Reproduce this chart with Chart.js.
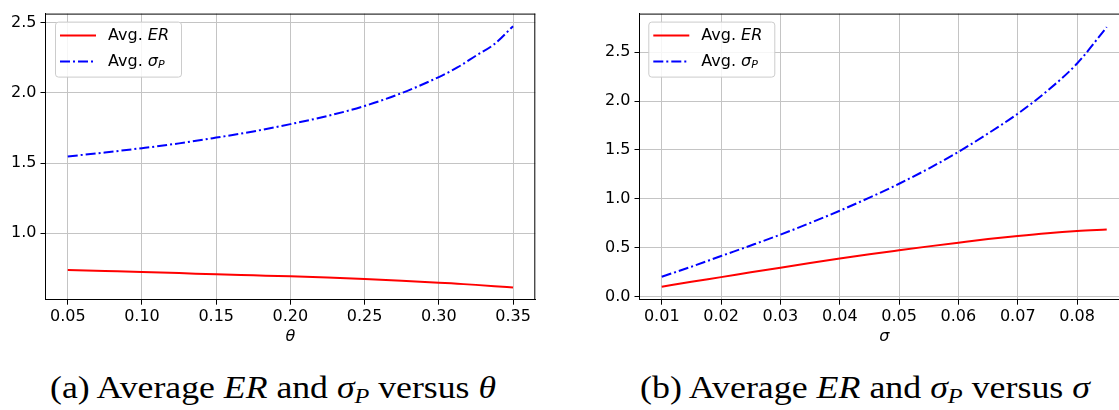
<!DOCTYPE html>
<html>
<head>
<meta charset="utf-8">
<script src="https://cdn.jsdelivr.net/npm/chart.js@4.4.0/dist/chart.umd.min.js"></script>
<style>
  html, body { margin: 0; padding: 0; background: #ffffff; overflow: hidden; width: 1119px; height: 410px; }
  #wrapL { position: absolute; left: 0; top: 0; width: 560px; height: 350px; }
  #wrapR { position: absolute; left: 560px; top: 0; width: 580px; height: 350px; }
  .cap { position: absolute; top: 371px; font-family: "Liberation Serif", "DejaVu Serif", serif; font-size: 31px; line-height: 34px; color: #000; white-space: nowrap; transform-origin: 0 50%; }
  .cap i { font-style: italic; }
  .cap sub { font-size: 21px; vertical-align: -5px; line-height: 0; }
</style>
</head>
<body>
<div id="wrapL"><canvas id="cL" width="560" height="350"></canvas></div>
<div id="wrapR"><canvas id="cR" width="580" height="350"></canvas></div>
<div class="cap" id="capA" style="left:50px">(a) Average <i>ER</i> and <i>σ<sub>P</sub></i> versus <i>θ</i></div>
<div class="cap" id="capB" style="left:640px">(b) Average <i>ER</i> and <i>σ<sub>P</sub></i> versus <i>σ</i></div>
<script>
// ---- Data ----
const thetaValues    = [0.05, 0.075, 0.10, 0.125, 0.15, 0.175, 0.20, 0.225, 0.25, 0.275, 0.30, 0.3125, 0.325, 0.3375, 0.35];
const thetaAvgER     = [0.739, 0.732, 0.725, 0.717, 0.708, 0.701, 0.694, 0.685, 0.675, 0.663, 0.649, 0.641, 0.633, 0.624, 0.614];
const thetaAvgSigmaP = [1.547, 1.575, 1.606, 1.640, 1.681, 1.725, 1.777, 1.835, 1.906, 1.998, 2.112, 2.180, 2.264, 2.347, 2.474];

const sigmaValues    = [0.010, 0.015, 0.020, 0.025, 0.030, 0.035, 0.040, 0.045, 0.050, 0.055, 0.060, 0.065, 0.070, 0.075, 0.080, 0.085];
const sigmaAvgER     = [0.100, 0.150, 0.198, 0.247, 0.295, 0.342, 0.388, 0.432, 0.473, 0.513, 0.551, 0.588, 0.620, 0.648, 0.670, 0.686];
const sigmaAvgSigmaP = [0.202, 0.305, 0.414, 0.522, 0.633, 0.752, 0.878, 1.012, 1.154, 1.310, 1.480, 1.669, 1.871, 2.106, 2.385, 2.758];

const thetaTicks  = [0.05, 0.10, 0.15, 0.20, 0.25, 0.30, 0.35];
const leftYTicks  = [1.0, 1.5, 2.0, 2.5];
const sigmaTicks  = [0.01, 0.02, 0.03, 0.04, 0.05, 0.06, 0.07, 0.08];
const rightYTicks = [0.0, 0.5, 1.0, 1.5, 2.0, 2.5];

const seriesNames = ['Avg. ER', 'Avg. σP'];

// ---- Plugins ----
const framePlugin = {
  id: 'frame',
  afterDatasetsDraw(chart) {
    const {ctx, chartArea: a} = chart;
    ctx.save();
    ctx.strokeStyle = '#000';
    ctx.lineWidth = 1;
    ctx.beginPath();
    ctx.moveTo(a.left, a.top + 0.5);
    ctx.lineTo(a.right, a.top + 0.5);
    ctx.moveTo(a.right - 0.5, a.top);
    ctx.lineTo(a.right - 0.5, a.bottom);
    ctx.stroke();
    ctx.restore();
  }
};

const mplLegend = {
  id: 'mplLegend',
  afterDraw(chart, args, opts) {
    const {ctx, chartArea: a} = chart;
    const x = a.left + opts.dx, y = a.top + 8, w = 126, h = 55;
    ctx.save();
    ctx.fillStyle = 'rgba(255,255,255,0.85)';
    ctx.strokeStyle = '#cccccc';
    ctx.lineWidth = 1;
    ctx.beginPath();
    ctx.roundRect(x + 0.5, y + 0.5, w, h, 3);
    ctx.fill();
    ctx.stroke();
    const rows = [y + 14, y + 40];
    chart.data.datasets.forEach((ds, i) => {
      const ry = rows[i];
      ctx.strokeStyle = ds.borderColor;
      ctx.lineWidth = 2;
      ctx.setLineDash(ds.borderDash || []);
      ctx.beginPath();
      ctx.moveTo(x + 5, ry);
      ctx.lineTo(x + 41, ry);
      ctx.stroke();
      ctx.setLineDash([]);
      ctx.fillStyle = '#000';
      ctx.textBaseline = 'middle';
      ctx.font = '16px "DejaVu Sans"';
      let tx = x + 53;
      ctx.fillText('Avg. ', tx, ry);
      tx += ctx.measureText('Avg. ').width;
      if (i === 0) {
        ctx.font = 'italic 16px "DejaVu Sans"';
        ctx.fillText('ER', tx, ry);
      } else {
        ctx.font = 'italic 16px "DejaVu Sans"';
        ctx.fillText('σ', tx, ry);
        tx += ctx.measureText('σ').width;
        ctx.font = 'italic 11px "DejaVu Sans"';
        ctx.fillText('P', tx, ry + 4);
      }
    });
    ctx.restore();
  }
};

function makeChart(id, xs, er, sp, xTicks, yTicks, xMin, xMax, yMin, yMax, yAxisWidth, padRight, xTitle, legendDx) {
  return new Chart(document.getElementById(id), {
    type: 'line',
    data: {
      datasets: [
        { label: seriesNames[0], data: xs.map((x, i) => ({x, y: er[i]})), borderColor: '#ff0000', borderWidth: 2, pointRadius: 0, cubicInterpolationMode: 'monotone', fill: false },
        { label: seriesNames[1], data: xs.map((x, i) => ({x, y: sp[i]})), borderColor: '#0000ff', borderWidth: 2, borderDash: [10, 3, 2, 3], pointRadius: 0, cubicInterpolationMode: 'monotone', fill: false }
      ]
    },
    options: {
      responsive: false,
      animation: false,
      events: [],
      layout: { padding: { top: 11, right: padRight, left: 0, bottom: 0 } },
      plugins: { legend: { display: false }, tooltip: { enabled: false }, mplLegend: { dx: legendDx } },
      scales: {
        x: {
          type: 'linear', min: xMin, max: xMax,
          afterBuildTicks: s => { s.ticks = xTicks.map(v => ({value: v})); },
          afterFit: s => { s.height = 50.3; },
          ticks: { callback: v => Number(v).toFixed(2), font: { family: 'DejaVu Sans', size: 16 }, color: '#000', padding: 3, maxRotation: 0, autoSkip: false },
          grid: { color: '#c4c4c4', lineWidth: 1, tickColor: '#000', tickLength: 5, drawTicks: true },
          border: { color: '#000', width: 1 },
          title: { display: true, text: xTitle, font: { family: 'DejaVu Sans', size: 16, style: 'italic' }, color: '#000', padding: { top: 0, bottom: 4 } }
        },
        y: {
          type: 'linear', min: yMin, max: yMax,
          afterBuildTicks: s => { s.ticks = yTicks.map(v => ({value: v})); },
          afterFit: s => { s.width = yAxisWidth; },
          ticks: { callback: v => Number(v).toFixed(1), font: { family: 'DejaVu Sans', size: 16 }, color: '#000', padding: 4 },
          grid: { color: '#c4c4c4', lineWidth: 1, tickColor: '#000', tickLength: 5, drawTicks: true },
          border: { color: '#000', width: 1 }
        }
      }
    },
    plugins: [framePlugin, mplLegend]
  });
}

makeChart('cL', thetaValues, thetaAvgER, thetaAvgSigmaP, thetaTicks, leftYTicks,
  0.035, 0.365, 0.5275, 2.5635, 45.5, 560 - 535.3, 'θ', 9.5);
makeChart('cR', sigmaValues, sigmaAvgER, sigmaAvgSigmaP, sigmaTicks, rightYTicks,
  0.00625, 0.08875, -0.033, 2.896, 79.5, 11, 'σ', 8.8);

// stretch the captions horizontally to the width they take in the reference
function fitCaption(id, targetWidth) {
  const el = document.getElementById(id);
  const w = el.getBoundingClientRect().width;
  if (w > 0) el.style.transform = 'scaleX(' + (targetWidth / w) + ')';
}
fitCaption('capA', 446);
fitCaption('capB', 450);
</script>
</body>
</html>
